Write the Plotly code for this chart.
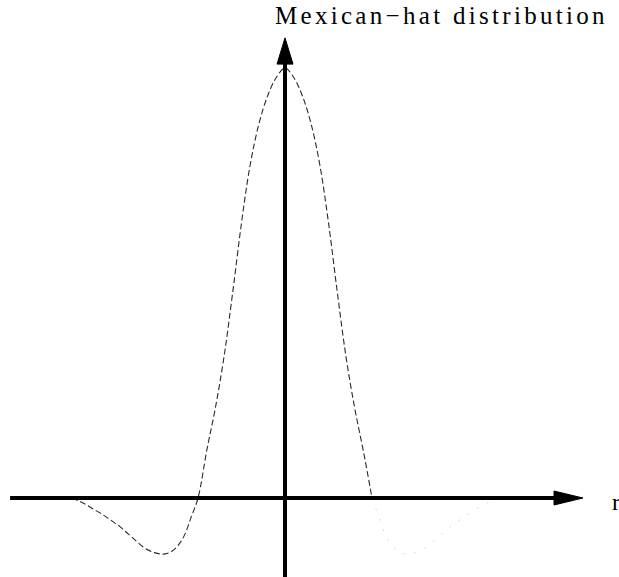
import plotly.graph_objects as go

# ---- data (r in units of the zero crossing, value normalised to peak) ----
r_left = [-2.45, -2.38, -2.3, -2.2, -2.1, -2.0, -1.9, -1.8, -1.7, -1.6, -1.5, -1.44,
          -1.38, -1.3, -1.22, -1.15, -1.08, -1.0, -0.9, -0.8, -0.7, -0.6, -0.5,
          -0.4, -0.3, -0.2, -0.1, 0.0]
v_left = [0.0, -0.006, -0.014, -0.026, -0.038, -0.052, -0.066, -0.084, -0.102, -0.118,
          -0.127, -0.130, -0.130, -0.124, -0.108, -0.084, -0.045, 0.0, 0.11, 0.21,
          0.33, 0.48, 0.64, 0.775, 0.87, 0.935, 0.978, 1.0]

r_curve = r_left + [-x for x in reversed(r_left[:-1])]
v_curve = v_left + list(reversed(v_left[:-1]))

# axis extents (data units)
x_range = [-3.276, 3.839]
y_range = [-0.1837, 1.1581]
x_axis_start, x_axis_tip, x_head_len, x_head_half = -3.16, 3.425, 0.333, 0.0163
y_axis_start, y_axis_tip, y_head_len, y_head_half = -0.1837, 1.07, 0.061, 0.092

title_text = "Mexican\u2212hat distribution"
axis_label = "r"

fig = go.Figure()

# main part of curve (up to right zero crossing)
main_r = [r for r in r_curve if r <= 1.0]
main_v = [v for r, v in zip(r_curve, v_curve) if r <= 1.0]
tail_r = [r for r in r_curve if r >= 1.0]
tail_v = [v for r, v in zip(r_curve, v_curve) if r >= 1.0]

fig.add_trace(go.Scatter(x=main_r, y=main_v, mode="lines", line_shape="spline",
                         line=dict(color="#2a2a2a", width=1.1, dash="6px,3px"),
                         hoverinfo="skip"))
fig.add_trace(go.Scatter(x=tail_r, y=tail_v, mode="lines", line_shape="spline",
                         line=dict(color="#d8d8d8", width=1, dash="2px,9px"),
                         hoverinfo="skip"))

# axes
fig.add_trace(go.Scatter(x=[x_axis_start, x_axis_tip - x_head_len * 0.8], y=[0, 0],
                         mode="lines", line=dict(color="black", width=4), hoverinfo="skip"))
fig.add_trace(go.Scatter(x=[0, 0], y=[y_axis_start, y_axis_tip - y_head_len * 0.8],
                         mode="lines", line=dict(color="black", width=4), hoverinfo="skip"))
# arrowheads
fig.add_trace(go.Scatter(x=[x_axis_tip - x_head_len, x_axis_tip, x_axis_tip - x_head_len, x_axis_tip - x_head_len],
                         y=[x_head_half, 0, -x_head_half, x_head_half],
                         mode="lines", fill="toself", fillcolor="black",
                         line=dict(color="black", width=1), hoverinfo="skip"))
fig.add_trace(go.Scatter(x=[-y_head_half, 0, y_head_half, -y_head_half],
                         y=[y_axis_tip - y_head_len, y_axis_tip, y_axis_tip - y_head_len, y_axis_tip - y_head_len],
                         mode="lines", fill="toself", fillcolor="black",
                         line=dict(color="black", width=1), hoverinfo="skip"))

fig.add_annotation(x=-0.138, xref="x", y=1.0, yref="paper", xanchor="left", yanchor="top",
                   text='<span style="letter-spacing:3.3px">' + title_text + '</span>',
                   showarrow=False,
                   font=dict(family="Liberation Serif", size=25, color="black"))
fig.add_annotation(x=3.74, xref="x", y=-0.01, yref="y", xanchor="left", yanchor="middle",
                   text=axis_label, showarrow=False,
                   font=dict(family="Liberation Serif", size=24, color="black"))

fig.update_layout(width=619, height=577, margin=dict(l=0, r=0, t=0, b=0),
                  paper_bgcolor="white", plot_bgcolor="white", showlegend=False,
                  xaxis=dict(range=x_range, visible=False, fixedrange=True),
                  yaxis=dict(range=y_range, visible=False, fixedrange=True))

fig.write_html("out.html", config={"displayModeBar": False},
               post_script="document.body.style.margin='0px';document.body.style.overflow='hidden';")
